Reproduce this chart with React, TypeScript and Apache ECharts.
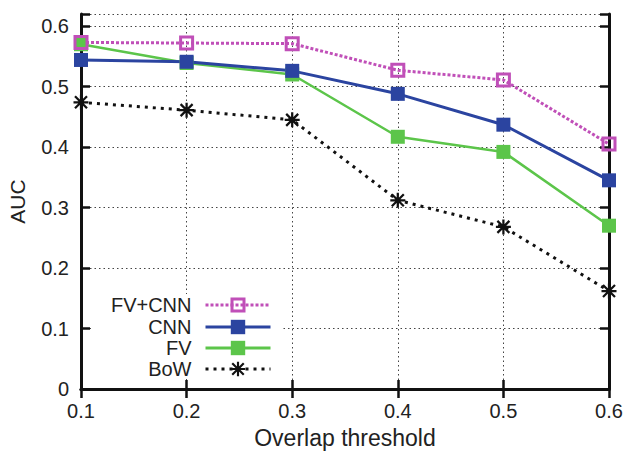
import React, { useEffect, useRef } from "react";
import * as echarts from "echarts";

const thresholds = [0.1, 0.2, 0.3, 0.4, 0.5, 0.6];
const fvCnn = [0.573, 0.572, 0.571, 0.527, 0.511, 0.405];
const cnn = [0.544, 0.541, 0.526, 0.488, 0.437, 0.345];
const fv = [0.570, 0.539, 0.520, 0.417, 0.392, 0.270];
const bow = [0.474, 0.461, 0.445, 0.312, 0.268, 0.162];
const seriesNames = ["FV+CNN", "CNN", "FV", "BoW"];

const FONT = "'Liberation Sans', Arial, Helvetica, sans-serif";
const MAGENTA = "#c04fb8";
const BLUE = "#2b44a0";
const GREEN = "#5cc54a";
const BLACK = "#111111";

const STAR =
  "path://M0 8.5H20V11.5H0Z M8.5 0H11.5V20H8.5Z M3.06 0.94L19.06 16.94L16.94 19.06L0.94 3.06Z M16.94 0.94L19.06 3.06L3.06 19.06L0.94 16.94Z";

const pairs = (ys: number[]) => thresholds.map((x, i) => [x, ys[i]]);

export default function App() {
  const ref = useRef<HTMLDivElement>(null);
  useEffect(() => {
    if (!ref.current) return;
    const chart = echarts.init(ref.current, null, { renderer: "svg" });
    const rowCenters = [305, 327, 348, 369];
    const legendBase = (name: string, i: number, extra: any) => ({
      data: [name],
      orient: "horizontal",
      align: "right",
      right: 355,
      top: rowCenters[i] - 10,
      padding: 0,
      itemWidth: 65,
      itemHeight: 18,
      selectedMode: false,
      textStyle: {
        fontFamily: FONT,
        fontSize: 20,
        lineHeight: 20,
        color: "#222",
        padding: [0, 9, 0, 0],
      },
      lineStyle: { width: 3 },
      ...extra,
    });
    const axisLine = { show: true, lineStyle: { color: BLACK, width: 3 } };
    const axisTick = { show: true, inside: true, length: 9, lineStyle: { color: BLACK, width: 2.5 } };
    const splitLine = { show: true, lineStyle: { color: "#444", width: 1, type: [1.5, 3] } };
    chart.setOption({
      animation: false,
      backgroundColor: "#ffffff",
      grid: { left: 81, right: 18, top: 14, bottom: 65, containLabel: false, outerBoundsMode: "none" },
      xAxis: [
        {
          type: "value",
          min: 0.1,
          max: 0.6,
          interval: 0.1,
          name: "Overlap threshold",
          nameLocation: "middle",
          nameGap: 37,
          nameTextStyle: { fontFamily: FONT, fontSize: 23, color: "#222" },
          axisLine,
          axisTick,
          splitLine,
          axisLabel: {
            margin: 12,
            fontFamily: FONT,
            fontSize: 20,
            color: "#222",
            formatter: (v: number) => v.toFixed(1),
          },
        },
        {
          type: "value",
          position: "top",
          min: 0.1,
          max: 0.6,
          interval: 0.1,
          axisLine,
          axisTick,
          splitLine: { show: false },
          axisLabel: { show: false },
        },
      ],
      yAxis: [
        {
          type: "value",
          min: 0,
          max: 0.62,
          interval: 0.1,
          name: "AUC",
          nameLocation: "middle",
          nameGap: 53,
          nameRotate: 90,
          nameTextStyle: { fontFamily: FONT, fontSize: 21, color: "#222" },
          axisLine,
          axisTick,
          splitLine,
          axisLabel: {
            margin: 12,
            fontFamily: FONT,
            fontSize: 20,
            color: "#222",
            formatter: (v: number) => {
              const t = v * 10;
              if (Math.abs(t - Math.round(t)) > 1e-6) return "";
              return v === 0 ? "0" : v.toFixed(1);
            },
          },
        },
        {
          type: "value",
          position: "right",
          min: 0,
          max: 0.62,
          interval: 0.1,
          axisLine,
          axisTick,
          splitLine: { show: false },
          axisLabel: { show: false },
        },
      ],
      graphic: [
        {
          type: "rect",
          z: 1,
          silent: true,
          shape: { x: 91, y: 294, width: 192, height: 85 },
          style: { fill: "#ffffff" },
        },
      ],
      legend: [
        legendBase(seriesNames[0], 0, { itemHeight: 15, itemStyle: { borderWidth: 3 } }),
        legendBase(seriesNames[1], 1, { itemStyle: { borderWidth: 0 } }),
        legendBase(seriesNames[2], 2, { itemStyle: { borderWidth: 0 } }),
        legendBase(seriesNames[3], 3, { itemStyle: { borderWidth: 0 } }),
      ],
      series: [
        {
          name: seriesNames[3],
          type: "line",
          data: pairs(bow),
          symbol: STAR,
          symbolSize: 15,
          itemStyle: { color: BLACK },
          lineStyle: { color: BLACK, width: 3, type: [3, 5] },
        },
        {
          name: seriesNames[2],
          type: "line",
          data: pairs(fv),
          symbol: "rect",
          symbolSize: 14,
          itemStyle: { color: GREEN },
          lineStyle: { color: GREEN, width: 2.5 },
        },
        {
          name: seriesNames[1],
          type: "line",
          data: pairs(cnn),
          symbol: "rect",
          symbolSize: 14,
          itemStyle: { color: BLUE },
          lineStyle: { color: BLUE, width: 3 },
        },
        {
          name: seriesNames[0],
          type: "line",
          data: pairs(fvCnn),
          symbol: "rect",
          symbolSize: 12,
          itemStyle: { color: "rgba(255,255,255,0)", borderColor: MAGENTA, borderWidth: 3 },
          lineStyle: { color: MAGENTA, width: 3, type: [3, 2] },
        },
      ],
    });
    return () => chart.dispose();
  }, []);
  return (
    <div
      ref={ref}
      style={{ position: "fixed", left: 0, top: 0, width: 627, height: 454 }}
    />
  );
}
